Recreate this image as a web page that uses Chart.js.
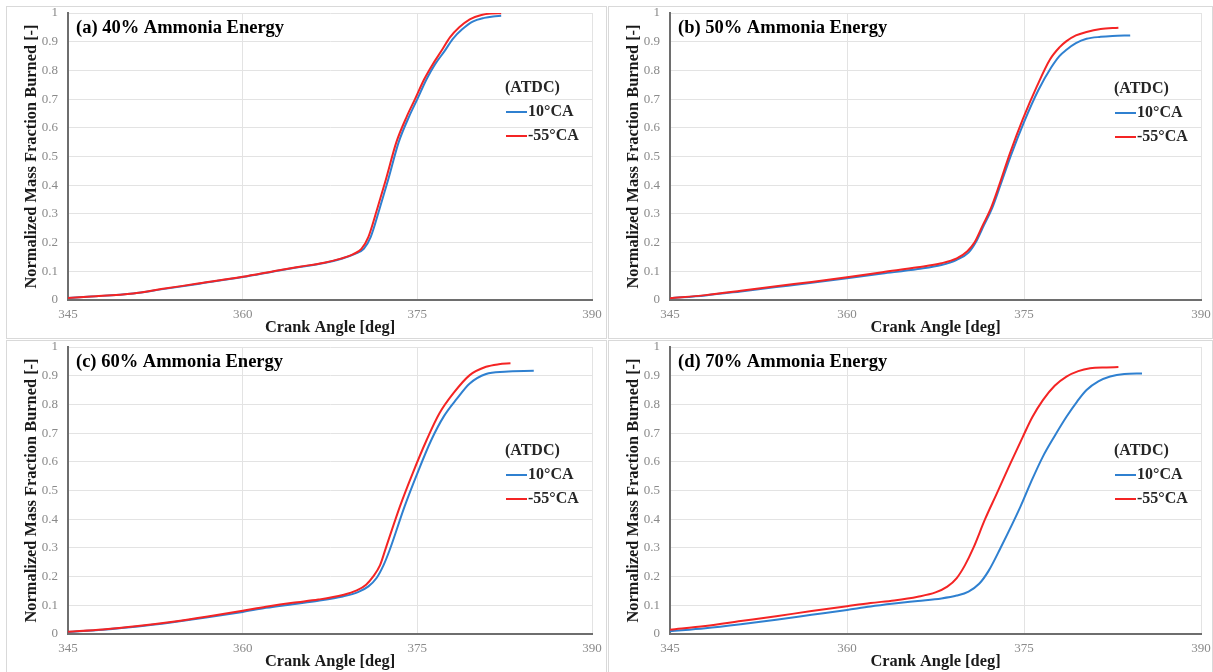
<!DOCTYPE html>
<html>
<head>
<meta charset="utf-8">
<script src="https://cdn.jsdelivr.net/npm/chart.js@4.4.1/dist/chart.umd.min.js"></script>
<style>
    html, body { margin: 0; padding: 0; background: #fff; }
    body { width: 1213px; height: 672px; position: relative; overflow: hidden; }
    .frame { position: absolute; border: 1px solid #d9d9d9; box-sizing: border-box; }
    canvas { position: absolute; }
</style>
</head>
<body>
<script>
// axis ticks
const xTicks = [345, 360, 375, 390];
const yTicks = [0, 0.1, 0.2, 0.3, 0.4, 0.5, 0.6, 0.7, 0.8, 0.9, 1];
const yTickLabels = ['0', '0.1', '0.2', '0.3', '0.4', '0.5', '0.6', '0.7', '0.8', '0.9', '1'];
const seriesLabels = ['10°CA', '-55°CA'];

// (a) 40% ammonia energy
const angleA10 = [345, 347, 350.6, 353, 356.3, 360, 363, 364.9, 367, 368.5, 369.6, 370.4, 371.0, 371.7, 372.5, 373.4, 374.3, 375.0, 375.8, 376.5, 377.35, 378.05, 378.85, 379.75, 380.75, 381.5, 382.2];
const mfbA10 = [0.007, 0.012, 0.023, 0.037, 0.057, 0.08, 0.102, 0.115, 0.129, 0.144, 0.16, 0.178, 0.22, 0.31, 0.42, 0.55, 0.64, 0.70, 0.77, 0.82, 0.868, 0.91, 0.943, 0.97, 0.983, 0.988, 0.99];
const angleA55 = [345, 347, 350.6, 353, 356.3, 360, 363, 364.9, 367, 368.5, 369.5, 370.2, 370.8, 371.5, 372.3, 373.2, 374.1, 374.8, 375.6, 376.3, 377.1, 377.8, 378.6, 379.5, 380.5, 381.3, 382.2];
const mfbA55 = [0.007, 0.012, 0.023, 0.038, 0.058, 0.081, 0.103, 0.116, 0.13, 0.145, 0.16, 0.178, 0.22, 0.31, 0.42, 0.55, 0.64, 0.70, 0.77, 0.82, 0.87, 0.915, 0.95, 0.978, 0.993, 0.998, 0.999];

// (b) 50% ammonia energy
const angleB10 = [345, 348, 351, 354, 357, 360, 363, 366, 368, 369.3, 370.3, 370.9, 371.6, 372.3, 373.0, 373.9, 375.0, 376.2, 377.3, 378.0, 378.6, 379.4, 380.3, 381.5, 382.5, 384];
const mfbB10 = [0.006, 0.016, 0.03, 0.045, 0.06, 0.076, 0.092, 0.108, 0.122, 0.14, 0.165, 0.2, 0.26, 0.32, 0.40, 0.505, 0.62, 0.73, 0.81, 0.85, 0.872, 0.895, 0.91, 0.917, 0.92, 0.922];
const angleB55 = [345, 348, 351, 354, 357, 360, 363, 366, 368, 369.3, 370.2, 370.8, 371.5, 372.2, 372.9, 373.8, 374.9, 376.1, 377.2, 378.0, 378.6, 379.4, 380.3, 381.5, 383];
const mfbB55 = [0.006, 0.017, 0.032, 0.048, 0.063, 0.079, 0.097, 0.114, 0.128, 0.145, 0.17, 0.2, 0.26, 0.32, 0.40, 0.51, 0.63, 0.745, 0.838, 0.88, 0.902, 0.922, 0.934, 0.944, 0.949];

// (c) 60% ammonia energy
const angleC10 = [345, 348, 351, 354, 357, 360, 362, 364.3, 366.5, 368.6, 369.9, 370.8, 371.5, 372.1, 372.6, 373.9, 375.0, 376.2, 377.3, 378.4, 379.5, 380.9, 382.5, 385];
const mfbC10 = [0.007, 0.015, 0.026, 0.041, 0.058, 0.077, 0.091, 0.104, 0.116, 0.131, 0.146, 0.166, 0.195, 0.24, 0.29, 0.444, 0.56, 0.676, 0.76, 0.82, 0.873, 0.906, 0.914, 0.917];
const angleC55 = [345, 348, 351, 354, 357, 360, 362, 364.3, 366.5, 368.6, 369.8, 370.6, 371.2, 371.8, 372.3, 373.5, 374.6, 375.8, 376.9, 378.1, 379.5, 380.9, 382, 383];
const mfbC55 = [0.008, 0.016, 0.028, 0.043, 0.061, 0.081, 0.095, 0.109, 0.12, 0.136, 0.152, 0.172, 0.2, 0.24, 0.30, 0.444, 0.56, 0.676, 0.769, 0.839, 0.902, 0.931, 0.94, 0.943];

// (d) 70% ammonia energy
const angleD10 = [345, 348, 351, 354, 357, 360, 362, 364, 366, 368, 369.3, 370.3, 371.2, 372, 373, 374.7, 375.6, 376.6, 377.6, 378.6, 379.5, 380.3, 381.3, 382.3, 383.5, 385];
const mfbD10 = [0.01, 0.02, 0.034, 0.05, 0.067, 0.084, 0.096, 0.106, 0.115, 0.124, 0.134, 0.148, 0.175, 0.22, 0.299, 0.444, 0.53, 0.618, 0.69, 0.757, 0.81, 0.85, 0.88, 0.897, 0.906, 0.908];
const angleD55 = [345, 348, 351, 354, 357, 360, 362, 364, 366, 367.5, 368.5, 369.3, 370, 370.7, 371.7, 372.7, 373.8, 374.9, 375.7, 376.6, 377.6, 378.6, 379.6, 380.6, 382, 383];
const mfbD55 = [0.015, 0.028, 0.045, 0.062, 0.08, 0.097, 0.108, 0.117, 0.13, 0.145, 0.165, 0.195, 0.24, 0.299, 0.4, 0.49, 0.59, 0.687, 0.755, 0.815, 0.865, 0.897, 0.916, 0.926, 0.929, 0.93];

const serif = '"Liberation Serif", "Times New Roman", serif';
const blue = '#2f80d0';
const red = '#f42424';

const panels = [
    { title: '(a) 40% Ammonia Energy', frame: [6, 6, 601, 333], plot: [68, 13, 592, 300], legendDy: 75,
      a10: angleA10, m10: mfbA10, a55: angleA55, m55: mfbA55 },
    { title: '(b) 50% Ammonia Energy', frame: [608, 6, 605, 333], plot: [670, 13, 1201, 300], legendDy: 76,
      a10: angleB10, m10: mfbB10, a55: angleB55, m55: mfbB55 },
    { title: '(c) 60% Ammonia Energy', frame: [6, 340, 601, 340], plot: [68, 347, 592, 634], legendDy: 104,
      a10: angleC10, m10: mfbC10, a55: angleC55, m55: mfbC55 },
    { title: '(d) 70% Ammonia Energy', frame: [608, 340, 605, 340], plot: [670, 347, 1201, 634], legendDy: 104,
      a10: angleD10, m10: mfbD10, a55: angleD55, m55: mfbD55 }
];

function toPoints(xs, ys) {
    return xs.map((x, i) => ({ x: x, y: ys[i] }));
}

// no extra room for the end labels, the plot box is fixed
function clearPadding(scale) {
    scale.paddingTop = 0;
    scale.paddingBottom = 0;
    scale.paddingLeft = 0;
    scale.paddingRight = 0;
}

// panel title and the (ATDC) legend inside the plot area
const panelText = {
    id: 'panelText',
    afterDraw: function (chart, args, opts) {
        const ctx = chart.ctx;
        const area = chart.chartArea;
        ctx.save();
        ctx.textBaseline = 'middle';
        ctx.textAlign = 'left';
        ctx.fillStyle = '#000';
        ctx.font = 'bold 18.5px ' + serif;
        ctx.fillText(opts.title, area.left + 8, area.top + 15);

        const lx = area.right - 87;
        const ly = area.top + opts.legendDy;
        ctx.font = 'bold 16px ' + serif;
        ctx.fillStyle = '#262626';
        ctx.fillText('(ATDC)', lx, ly);
        const colors = [blue, red];
        seriesLabels.forEach(function (label, i) {
            const y = ly + 24 * (i + 1);
            ctx.strokeStyle = colors[i];
            ctx.lineWidth = 2;
            ctx.beginPath();
            ctx.moveTo(lx + 1, y);
            ctx.lineTo(lx + 22, y);
            ctx.stroke();
            ctx.fillText(label, lx + 23, y);
        });
        ctx.restore();
    }
};

panels.forEach(function (p) {
    const [fx, fy, fw, fh] = p.frame;
    const frame = document.createElement('div');
    frame.className = 'frame';
    frame.style.left = fx + 'px';
    frame.style.top = fy + 'px';
    frame.style.width = fw + 'px';
    frame.style.height = fh + 'px';
    document.body.appendChild(frame);

    const cx = fx + 1, cy = fy + 1;
    const cw = fw - 2, ch = Math.min(fh - 2, 672 - cy);
    const canvas = document.createElement('canvas');
    canvas.width = cw;
    canvas.height = ch;
    canvas.style.left = cx + 'px';
    canvas.style.top = cy + 'px';
    canvas.style.width = cw + 'px';
    canvas.style.height = ch + 'px';
    document.body.appendChild(canvas);

    const [pl, pt, pr, pb] = p.plot;
    const yAxisWidth = pl - cx;
    const xAxisHeight = cy + ch - pb;

    new Chart(canvas.getContext('2d'), {
        type: 'line',
        data: {
            datasets: [{
                label: seriesLabels[0],
                data: toPoints(p.a10, p.m10),
                borderColor: blue,
                borderWidth: 2,
                pointRadius: 0,
                cubicInterpolationMode: 'monotone',
                order: 2
            }, {
                label: seriesLabels[1],
                data: toPoints(p.a55, p.m55),
                borderColor: red,
                borderWidth: 2,
                pointRadius: 0,
                cubicInterpolationMode: 'monotone',
                order: 1
            }]
        },
        options: {
            responsive: false,
            animation: false,
            devicePixelRatio: 1,
            events: [],
            layout: {
                autoPadding: false,
                padding: { left: 0, top: pt - cy, right: cx + cw - pr, bottom: 0 }
            },
            scales: {
                x: {
                    type: 'linear',
                    min: 345,
                    max: 390,
                    afterBuildTicks: function (scale) { scale.ticks = xTicks.map(v => ({ value: v })); },
                    afterFit: function (scale) { scale.height = xAxisHeight; clearPadding(scale); },
                    grid: { color: '#e3e3e3', lineWidth: 1, drawTicks: false },
                    border: { display: true, color: '#6e6e6e', width: 2 },
                    ticks: { color: '#8a8a8a', padding: 7, font: { family: serif, size: 13 }, maxRotation: 0 },
                    title: {
                        display: true,
                        text: 'Crank Angle [deg]',
                        color: '#1a1a1a',
                        font: { family: serif, size: 16.4, weight: 'bold' },
                        padding: { top: 0, bottom: 0 }
                    }
                },
                y: {
                    min: 0,
                    max: 1,
                    afterBuildTicks: function (scale) { scale.ticks = yTicks.map(v => ({ value: v })); },
                    afterFit: function (scale) { scale.width = yAxisWidth; clearPadding(scale); },
                    grid: { color: '#e3e3e3', lineWidth: 1, drawTicks: false },
                    border: { display: true, color: '#6e6e6e', width: 2 },
                    ticks: {
                        color: '#8a8a8a',
                        padding: 10,
                        font: { family: serif, size: 13 },
                        callback: function (value, index) { return yTickLabels[index]; }
                    },
                    title: {
                        display: true,
                        text: 'Normalized Mass Fraction Burned [-]',
                        color: '#1a1a1a',
                        font: { family: serif, size: 16.4, weight: 'bold' },
                        padding: { top: 15, bottom: 0 }
                    }
                }
            },
            plugins: {
                legend: { display: false },
                tooltip: { enabled: false },
                panelText: { title: p.title, legendDy: p.legendDy }
            }
        },
        plugins: [panelText]
    });
});
</script>
</body>
</html>
